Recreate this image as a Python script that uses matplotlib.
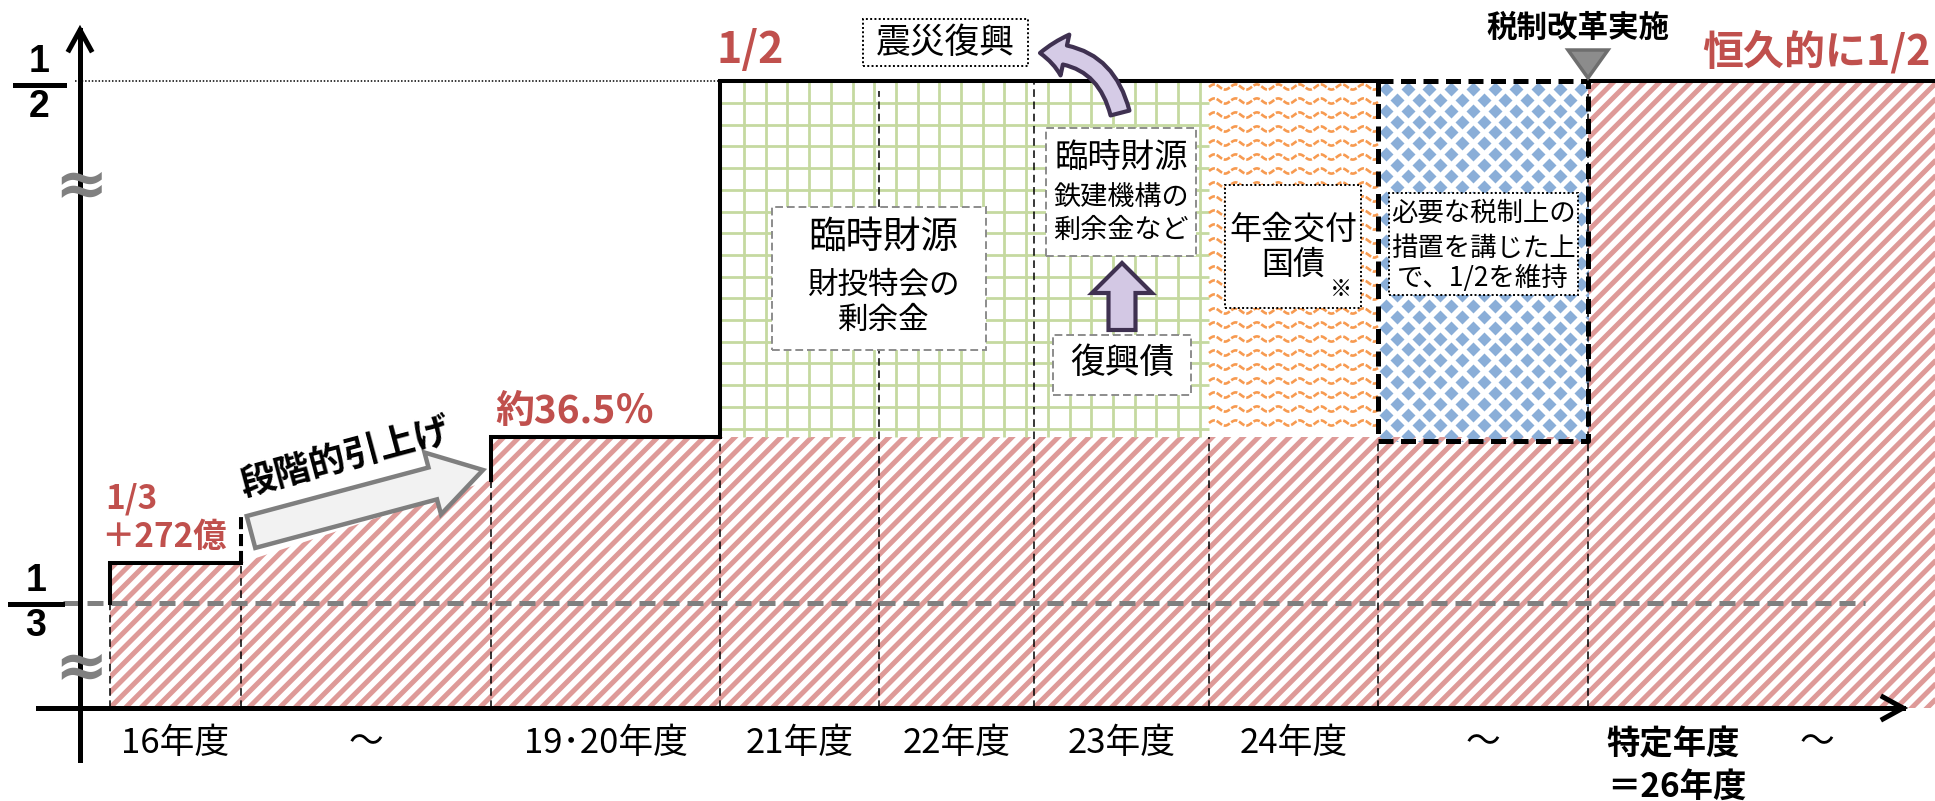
import numpy as np
import matplotlib.pyplot as plt
from matplotlib.patches import Polygon, Rectangle, FancyArrow, FancyArrowPatch
from matplotlib.collections import LineCollection

plt.rcParams['font.family'] = ['Noto Sans CJK JP', 'DejaVu Sans']

# schematic chart: national share of the basic pension (axis is broken, not to scale)
years = ['16年度', '～', '19･20年度', '21年度', '22年度', '23年度', '24年度', '～', '特定年度', '～']
col_edges = [110, 241, 491, 720, 879, 1034, 1209, 1378, 1588, 1758, 1876]
share_names = ['1/3', '1/3＋272億', '約36.5％', '1/2']
share_height = [105, 145, 271, 627]
ramp_top = 228          # where the gradual increase reaches at 19年度
funding = ['臨時財源', '臨時財源', '年金交付国債', '税制上の措置']

RED = '#C0504D'
W, H = 1935, 801

fig = plt.figure(figsize=(W / 100, H / 100), dpi=100)
ax = fig.add_axes([0, 0, 1, 1])
ax.set_xlim(0, W)
ax.set_ylim(-93, 708)
ax.axis('off')

third, third_plus, mid, half = share_height
e = col_edges


def clipped(artist, patch):
    patch.set_zorder(0.5)
    ax.add_patch(patch)
    artist.set_clip_path(patch)
    return artist


# --- red diagonal stripes: the part covered by the basic share ---
red_poly = Polygon([(e[0], 0), (e[0], third_plus), (e[1], third_plus), (e[2], ramp_top),
                    (e[2], mid), (e[8], mid), (e[8], half), (W, half), (W, 0)],
                   closed=True, fc='white', ec='none')
segs = [[(-200, -200 + c), (W + 200, W + 200 + c)] for c in np.arange(-W - 300, H + 100, 15.4)]
lc = LineCollection(segs, colors='#DE9A98', linewidths=3.6, zorder=1)
ax.add_collection(clipped(lc, red_poly))

# --- green grid: 臨時財源 (21-23年度) ---
green = Rectangle((e[3], mid), e[6] - e[3], half - mid, fc='white', ec='none')
gsegs = [[(x, mid), (x, half)] for x in np.arange(e[3] + 24, e[6], 21.7)]
gsegs += [[(e[3], y), (e[6], y)] for y in np.arange(half - 22, mid, -21.7)]
glc = LineCollection(gsegs, colors='#C5D9A0', linewidths=2.0, zorder=1)
ax.add_collection(clipped(glc, green))

# --- orange waves: 年金交付国債 (24年度) ---
orange = Rectangle((e[6], mid), e[7] - e[6], half - mid, fc='white', ec='none')
xs = np.linspace(e[6], e[7], 200)
wsegs = [np.column_stack([xs, y0 + 2.6 * np.sin(2 * np.pi * (xs - e[6]) / 21.3)])
         for y0 in np.arange(half - 6, mid, -14)]
wlc = LineCollection(wsegs, colors='#F79A50', linewidths=1.9, linestyles=(0, (2.5, 0.7)), zorder=1)
ax.add_collection(clipped(wlc, orange))

# --- blue diamonds: 税制上の措置 (25年度) ---
blue = Rectangle((e[7], mid - 4), e[8] - e[7], half - mid + 4, fc='white', ec='none')
bx, by = [], []
for j, y0 in enumerate(np.arange(half - 8, mid - 20, -10.85)):
    off = 0 if j % 2 == 0 else 10.85
    for x0 in np.arange(e[7] + 8 + off, e[8] + 10, 21.7):
        bx.append(x0)
        by.append(y0)
dots, = ax.plot(bx, by, 'D', ms=7.0, color='#8AAED8', mec='none', zorder=1)
clipped(dots, blue)

# --- thin dashed column separators ---
sep_top = [third, third_plus, ramp_top, half, half - 10, half, mid, mid - 4, half - 13]
for x, top in zip(e[:-1], sep_top):
    ax.plot([x, x], [0, top], color='black', lw=1.1, ls=(0, (5, 3)), zorder=2)

# 1/3 reference line (gray dashed) and 1/2 dotted guide
ax.plot([63, 1865], [third, third], color='#808080', lw=3.6, ls=(0, (3.2, 1.6)), zorder=3)
ax.plot([75, e[3]], [half, half], color='black', lw=1.1, ls=(0, (1, 1.2)), zorder=3)

# --- share outline ---
kw = dict(color='black', lw=2.9, zorder=4, solid_joinstyle='miter')
ax.plot([e[0], e[0], e[1]], [third, third_plus, third_plus], **kw)
ax.plot([e[1], e[1]], [third_plus, third_plus + 46], color='black', lw=2.9, ls=(0, (3, 1.2)), zorder=4)
ax.plot([e[2], e[2], e[3], e[3], e[7]], [ramp_top, mid, mid, half, half], **kw)
ax.plot([e[8], W], [half, half], **kw)
ax.plot([e[7], e[8], e[8], e[7], e[7]], [half, half, mid - 4, mid - 4, half],
        color='black', lw=3.6, ls=(0, (3, 1.5)), zorder=4)

# --- axes with open arrow heads ---
ax.plot([80, 80], [-52, 678], color='black', lw=3.6, zorder=5)
ax.plot([69, 80, 91], [658, 678, 658], color='black', lw=3.6, zorder=5, solid_joinstyle='miter')
ax.plot([38, 1903], [0, 0], color='black', lw=3.6, zorder=5)
ax.plot([1883, 1903, 1883], [11, 0, -11], color='black', lw=3.6, zorder=5, solid_joinstyle='miter')
for yb in [521, 39]:
    ax.text(81, yb, '≈', fontsize=46, fontweight='bold', color='#808080', ha='center',
            va='center', family='DejaVu Sans', zorder=6)

# y labels as stacked fractions
for num, den, yc, x0, x1 in [('1', '2', 623, 15, 64), ('1', '3', 104, 10, 62)]:
    ax.plot([x0, x1], [yc, yc], color='black', lw=3.6, zorder=6)
    xc = (x0 + x1) / 2
    ax.text(xc, yc + 23, num, fontsize=27, fontweight='bold', ha='center', va='center',
            family='Liberation Sans')
    ax.text(xc, yc - 22, den, fontsize=27, fontweight='bold', ha='center', va='center',
            family='Liberation Sans')

# x tick labels
centers = [(a + b) / 2 for a, b in zip(e[:-1], e[1:])]
for lab, xc in zip(years, centers):
    if lab == '特定年度':
        ax.text(xc, -37, lab, fontsize=24, fontweight='bold', ha='center', va='center')
        ax.text(xc + 4, -79, '＝26年度', fontsize=24, fontweight='bold', ha='center', va='center')
    else:
        ax.text(xc, -35, lab, fontsize=25, ha='center', va='center')

# red share labels
ax.text(105, 209, '1/3', fontsize=24, fontweight='bold', color=RED, ha='left', va='center')
ax.text(101, 171, '＋272億', fontsize=24, fontweight='bold', color=RED, ha='left', va='center')
ax.text(495, 297, share_names[2], fontsize=28, fontweight='bold', color=RED, ha='left', va='center')
ax.text(716, 658, '1/2', fontsize=31, fontweight='bold', color=RED, ha='left', va='center')
ax.text(1702, 656, '恒久的に1/2', fontsize=29.5, fontweight='bold', color=RED, ha='left', va='center')

# gradual increase arrow
ax.add_patch(FancyArrow(251, 176, 232, 62, width=33, head_width=64, head_length=52,
                        length_includes_head=True, fc='#F2F2F2', ec='#7F7F7F', lw=3.2, zorder=6))
ax.text(345, 250, '段階的引上げ', fontsize=26, fontweight='bold', rotation=15,
        rotation_mode='anchor', ha='center', va='center', zorder=7)

# tax reform marker
ax.text(1578, 680, '税制改革実施', fontsize=22, fontweight='bold', ha='center', va='center')
ax.add_patch(Polygon([(1568, 658), (1608, 658), (1588, 630)], closed=True,
                     fc='#8C8C8C', ec='#6E6E6E', lw=2.5, zorder=6))


def box(x0, y0, x1, y1, ls, ec='black'):
    ax.add_patch(Rectangle((x0, y0), x1 - x0, y1 - y0, fc='white', ec=ec, lw=1.4, ls=ls, zorder=6))


dotted = (0, (1, 1.2))
dashed = (0, (4, 2))

box(863, 642, 1028, 689, dotted)
ax.text(945, 665, '震災復興', fontsize=25, ha='center', va='center', zorder=7)

box(772, 358, 986, 501, dashed, '#8C8C8C')
ax.text(883, 471, funding[0], fontsize=27, ha='center', va='center', zorder=7)
ax.text(883, 423, '財投特会の', fontsize=22, ha='center', va='center', zorder=7)
ax.text(883, 388, '剰余金', fontsize=22, ha='center', va='center', zorder=7)

box(1046, 452, 1196, 580, dashed, '#8C8C8C')
ax.text(1121, 551, funding[1], fontsize=24, ha='center', va='center', zorder=7)
ax.text(1121, 511, '鉄建機構の', fontsize=19.5, ha='center', va='center', zorder=7)
ax.text(1121, 478, '剰余金など', fontsize=19.5, ha='center', va='center', zorder=7)

box(1053, 313, 1191, 373, dashed, '#8C8C8C')
ax.text(1122, 345, '復興債', fontsize=25, ha='center', va='center', zorder=7)
ax.add_patch(FancyArrow(1122, 378, 0, 67, width=27, head_width=60, head_length=30,
                        length_includes_head=True, fc='#D3C8E4', ec='#3F3151', lw=3, zorder=6))

box(1225, 400, 1361, 523, dotted)
ax.text(1293, 478, '年金交付', fontsize=23, ha='center', va='center', zorder=7)
ax.text(1293, 443, '国債', fontsize=23, ha='center', va='center', zorder=7)
ax.text(1341, 418, '※', fontsize=16, ha='center', va='center', zorder=7)

box(1389, 413, 1578, 515, dotted)
ax.text(1483, 495, '必要な税制上の', fontsize=19, ha='center', va='center', zorder=7)
ax.text(1483, 460, '措置を講じた上', fontsize=19, ha='center', va='center', zorder=7)
ax.text(1483, 430, 'で、1/2を維持', fontsize=19, ha='center', va='center', zorder=7)

# curved arrow from 臨時財源 to 震災復興
ax.add_patch(FancyArrowPatch((1120, 595), (1040, 655), connectionstyle='arc3,rad=0.4',
                             arrowstyle='simple,head_length=18,head_width=30,tail_width=14',
                             mutation_scale=1, fc='#D5CBE6', ec='#3F3151', lw=3,
                             shrinkA=0, shrinkB=0, zorder=8))

fig.savefig('out.png', dpi=100)
